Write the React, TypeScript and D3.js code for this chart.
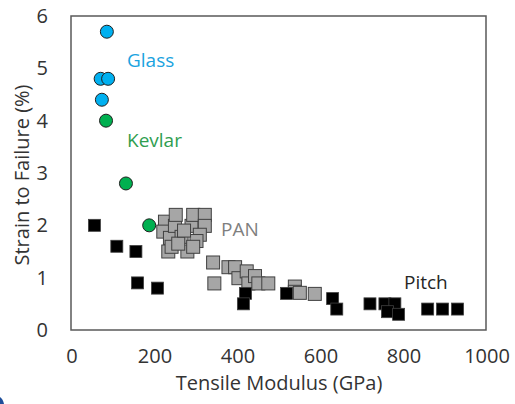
import React, { useEffect, useRef } from "react";
import * as d3 from "d3";

// GPa, strain %
const glassModulus = [84, 69, 87, 72];
const glassStrain = [5.7, 4.8, 4.8, 4.4];

const kevlarModulus = [82, 130, 186];
const kevlarStrain = [4.0, 2.8, 2.0];

const panModulus = [
  224, 220, 236, 248, 250, 264, 288, 292, 320, 320, 308, 300, 232, 240, 278, 292, 256, 270,
  340, 343, 377, 393, 401, 421, 425, 441, 449, 473, 537, 537, 549, 585,
];
const panStrain = [
  2.07, 1.88, 1.76, 1.99, 2.2, 1.78, 1.99, 2.2, 2.2, 1.99, 1.82, 1.7, 1.5, 1.59, 1.5, 1.59, 1.65, 1.9,
  1.29, 0.89, 1.2, 1.2, 0.99, 1.12, 0.89, 1.03, 0.89, 0.89, 0.83, 0.73, 0.71, 0.69,
];

const pitchModulus = [54, 108, 154, 158, 206, 418, 413, 517, 628, 638, 718, 754, 778, 760, 787, 857, 893, 929];
const pitchStrain = [2.0, 1.6, 1.5, 0.9, 0.8, 0.7, 0.5, 0.7, 0.6, 0.4, 0.5, 0.5, 0.5, 0.35, 0.3, 0.4, 0.4, 0.4];

const xTicks = [0, 200, 400, 600, 800, 1000];
const yTicks = [0, 1, 2, 3, 4, 5, 6];

const FONT = "'Open Sans', sans-serif";

const App = () => {
  const svgRef = useRef<SVGSVGElement>(null);

  useEffect(() => {
    const svg = d3.select(svgRef.current);
    svg.selectAll("*").remove();

    const left = 71;
    const right = 486;
    const top = 16;
    const bottom = 330;

    const x = d3.scaleLinear().domain([0, 1000]).range([left + 1, right + 1]);
    const y = d3.scaleLinear().domain([0, 6]).range([bottom, top]);

    // frame
    svg
      .append("rect")
      .attr("x", left)
      .attr("y", top)
      .attr("width", right - left)
      .attr("height", bottom - top)
      .attr("fill", "none")
      .attr("stroke", "#595959")
      .attr("stroke-width", 1.5);

    svg
      .append("g")
      .selectAll("text")
      .data(xTicks)
      .enter()
      .append("text")
      .attr("x", (d) => x(d))
      .attr("y", 363)
      .attr("text-anchor", "middle")
      .attr("font-family", FONT)
      .attr("font-size", 20)
      .attr("fill", "#333")
      .text((d) => d);

    svg
      .append("g")
      .selectAll("text")
      .data(yTicks)
      .enter()
      .append("text")
      .attr("x", 48)
      .attr("y", (d) => y(d) + 7)
      .attr("text-anchor", "end")
      .attr("font-family", FONT)
      .attr("font-size", 20)
      .attr("fill", "#333")
      .text((d) => d);

    svg
      .append("text")
      .attr("x", 279)
      .attr("y", 390)
      .attr("text-anchor", "middle")
      .attr("font-family", FONT)
      .attr("font-size", 20)
      .attr("fill", "#333")
      .text("Tensile Modulus (GPa)");

    svg
      .append("text")
      .attr("transform", "translate(29,175) rotate(-90)")
      .attr("text-anchor", "middle")
      .attr("font-family", FONT)
      .attr("font-size", 20)
      .attr("fill", "#333")
      .text("Strain to Failure (%)");

    const s = 13;
    const pan = d3.zip(panModulus, panStrain);
    svg
      .append("g")
      .selectAll("rect")
      .data(pan)
      .enter()
      .append("rect")
      .attr("x", (d) => x(d[0]) - s / 2)
      .attr("y", (d) => y(d[1]) - s / 2)
      .attr("width", s)
      .attr("height", s)
      .attr("fill", "#a6a6a6")
      .attr("stroke", "#404040")
      .attr("stroke-width", 1);

    const pitch = d3.zip(pitchModulus, pitchStrain);
    svg
      .append("g")
      .selectAll("rect")
      .data(pitch)
      .enter()
      .append("rect")
      .attr("x", (d) => x(d[0]) - 6)
      .attr("y", (d) => y(d[1]) - 6)
      .attr("width", 12)
      .attr("height", 12)
      .attr("fill", "#000")
      .attr("stroke", "#404040")
      .attr("stroke-width", 0.8);

    const circles = (mod: number[], str: number[], fill: string) => {
      svg
        .append("g")
        .selectAll("circle")
        .data(d3.zip(mod, str))
        .enter()
        .append("circle")
        .attr("cx", (d) => x(d[0]))
        .attr("cy", (d) => y(d[1]))
        .attr("r", 6.5)
        .attr("fill", fill)
        .attr("stroke", "#1f1f1f")
        .attr("stroke-width", 1);
    };
    circles(glassModulus, glassStrain, "#00b0f0");
    circles(kevlarModulus, kevlarStrain, "#00b050");

    const label = (t: string, lx: number, ly: number, c: string) =>
      svg
        .append("text")
        .attr("x", lx)
        .attr("y", ly)
        .attr("font-family", FONT)
        .attr("font-size", 19)
        .attr("fill", c)
        .text(t);
    label("Glass", 127, 67, "#1aa3e0");
    label("Kevlar", 127, 147, "#2f9e50");
    label("PAN", 221, 236, "#7f7f7f");
    label("Pitch", 404, 289, "#262626");

    // slide corner decoration
    svg
      .append("path")
      .attr("d", "M0,397 Q3,399 4,404 L0,404 Z")
      .attr("fill", "#1f4e9a");
  }, []);

  return (
    <svg
      ref={svgRef}
      width={515}
      height={404}
      style={{ position: "absolute", left: 0, top: 0, background: "#fff" }}
    ></svg>
  );
};

export default App;
